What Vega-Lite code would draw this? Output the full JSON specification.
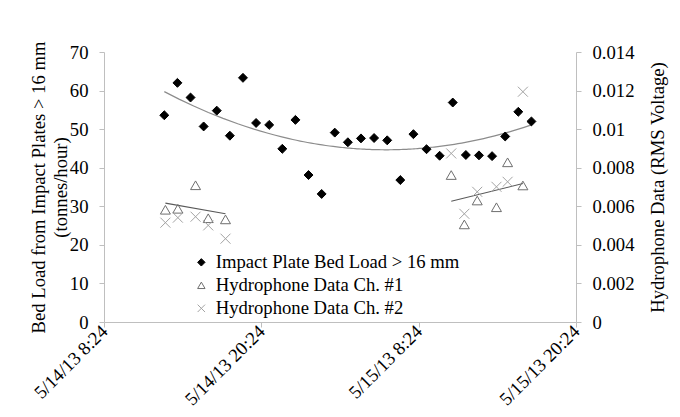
{
  "$schema": "https://vega.github.io/schema/vega-lite/v6.json",
  "width": 472,
  "height": 270,
  "autosize": {"type": "none"},
  "padding": {"left": 104, "top": 52, "right": 104, "bottom": 95},
  "background": "white",
  "config": {
    "view": {"stroke": null},
    "font": "Liberation Serif",
    "axis": {
      "labelFont": "Liberation Serif",
      "labelFontSize": 18.67,
      "labelColor": "black",
      "titleFont": "Liberation Serif",
      "titleFontSize": 18.67,
      "titleFontWeight": "normal",
      "titleColor": "black",
      "domainColor": "#bfbfbf",
      "tickColor": "#bfbfbf",
      "tickSize": 5,
      "grid": false
    }
  },
  "encoding": {
    "x": {
      "field": "t",
      "type": "temporal",
      "scale": {
        "domain": [
          {"year": 2013, "month": 5, "date": 14, "hours": 8, "minutes": 24},
          {"year": 2013, "month": 5, "date": 15, "hours": 20, "minutes": 24}
        ]
      },
      "axis": {
        "title": null,
        "values": [
          {"year": 2013, "month": 5, "date": 14, "hours": 8, "minutes": 24},
          {"year": 2013, "month": 5, "date": 14, "hours": 20, "minutes": 24},
          {"year": 2013, "month": 5, "date": 15, "hours": 8, "minutes": 24},
          {"year": 2013, "month": 5, "date": 15, "hours": 20, "minutes": 24}
        ],
        "format": "%-m/%-d/%y %-H:%M",
        "labelAngle": -45,
        "labelAlign": "right",
        "labelBaseline": "middle",
        "labelPadding": 1,
        "labelOverlap": false,
        "labelFlush": false
      }
    }
  },
  "layer": [
    {
      "data": {
        "values": [
          {"t": "2013-05-14T13:00:00", "load": 53.6, "series": "Impact Plate Bed Load > 16 mm"},
          {"t": "2013-05-14T14:00:00", "load": 62.0, "series": "Impact Plate Bed Load > 16 mm"},
          {"t": "2013-05-14T15:00:00", "load": 58.2, "series": "Impact Plate Bed Load > 16 mm"},
          {"t": "2013-05-14T16:00:00", "load": 50.7, "series": "Impact Plate Bed Load > 16 mm"},
          {"t": "2013-05-14T17:00:00", "load": 54.8, "series": "Impact Plate Bed Load > 16 mm"},
          {"t": "2013-05-14T18:00:00", "load": 48.3, "series": "Impact Plate Bed Load > 16 mm"},
          {"t": "2013-05-14T19:00:00", "load": 63.3, "series": "Impact Plate Bed Load > 16 mm"},
          {"t": "2013-05-14T20:00:00", "load": 51.6, "series": "Impact Plate Bed Load > 16 mm"},
          {"t": "2013-05-14T21:00:00", "load": 51.1, "series": "Impact Plate Bed Load > 16 mm"},
          {"t": "2013-05-14T22:00:00", "load": 44.9, "series": "Impact Plate Bed Load > 16 mm"},
          {"t": "2013-05-14T23:00:00", "load": 52.4, "series": "Impact Plate Bed Load > 16 mm"},
          {"t": "2013-05-15T00:00:00", "load": 38.1, "series": "Impact Plate Bed Load > 16 mm"},
          {"t": "2013-05-15T01:00:00", "load": 33.2, "series": "Impact Plate Bed Load > 16 mm"},
          {"t": "2013-05-15T02:00:00", "load": 49.1, "series": "Impact Plate Bed Load > 16 mm"},
          {"t": "2013-05-15T03:00:00", "load": 46.6, "series": "Impact Plate Bed Load > 16 mm"},
          {"t": "2013-05-15T04:00:00", "load": 47.6, "series": "Impact Plate Bed Load > 16 mm"},
          {"t": "2013-05-15T05:00:00", "load": 47.7, "series": "Impact Plate Bed Load > 16 mm"},
          {"t": "2013-05-15T06:00:00", "load": 47.1, "series": "Impact Plate Bed Load > 16 mm"},
          {"t": "2013-05-15T07:00:00", "load": 36.8, "series": "Impact Plate Bed Load > 16 mm"},
          {"t": "2013-05-15T08:00:00", "load": 48.7, "series": "Impact Plate Bed Load > 16 mm"},
          {"t": "2013-05-15T09:00:00", "load": 44.8, "series": "Impact Plate Bed Load > 16 mm"},
          {"t": "2013-05-15T10:00:00", "load": 43.1, "series": "Impact Plate Bed Load > 16 mm"},
          {"t": "2013-05-15T11:00:00", "load": 56.9, "series": "Impact Plate Bed Load > 16 mm"},
          {"t": "2013-05-15T12:00:00", "load": 43.3, "series": "Impact Plate Bed Load > 16 mm"},
          {"t": "2013-05-15T13:00:00", "load": 43.2, "series": "Impact Plate Bed Load > 16 mm"},
          {"t": "2013-05-15T14:00:00", "load": 43.0, "series": "Impact Plate Bed Load > 16 mm"},
          {"t": "2013-05-15T15:00:00", "load": 48.1, "series": "Impact Plate Bed Load > 16 mm"},
          {"t": "2013-05-15T16:00:00", "load": 54.5, "series": "Impact Plate Bed Load > 16 mm"},
          {"t": "2013-05-15T17:00:00", "load": 52.0, "series": "Impact Plate Bed Load > 16 mm"}
        ],
        "format": {"parse": {"t": "date"}}
      },
      "encoding": {
        "y": {
          "field": "load",
          "type": "quantitative",
          "scale": {"domain": [0, 70], "nice": false},
          "axis": {
            "orient": "left",
            "values": [0, 10, 20, 30, 40, 50, 60, 70],
            "labelPadding": 11,
            "title": ["Bed Load from Impact Plates > 16 mm", "(tonnes/hour)"],
            "titleAngle": -90,
            "titleX": -66,
            "titleY": 135,
            "titleAlign": "center",
            "titleBaseline": "middle",
            "titleLineHeight": 22
          }
        }
      },
      "layer": [
        {
          "transform": [{"regression": "load", "on": "t", "method": "poly", "order": 2}],
          "mark": {"type": "line", "color": "#8c8c8c", "strokeWidth": 1.2}
        },
        {
          "mark": {"type": "point", "size": 80, "strokeWidth": 1, "opacity": 1},
          "encoding": {
            "shape": {
              "field": "series",
              "type": "nominal",
              "scale": {
                "domain": ["Impact Plate Bed Load > 16 mm", "Hydrophone Data Ch. #1", "Hydrophone Data Ch. #2"],
                "range": ["diamond", "triangle-up", "M-1,-1L1,1M-1,1L1,-1"]
              },
              "legend": {
                "title": null,
                "orient": "none",
                "legendX": 88,
                "legendY": 201,
                "padding": 0,
                "labelFont": "Liberation Serif",
                "labelFontSize": 18.67,
                "labelColor": "black",
                "labelLimit": 400,
                "symbolSize": 55,
                "symbolStrokeWidth": 1,
                "labelOffset": 5,
                "rowPadding": 3
              }
            },
            "fill": {
              "field": "series",
              "type": "nominal",
              "scale": {
                "domain": ["Impact Plate Bed Load > 16 mm", "Hydrophone Data Ch. #1", "Hydrophone Data Ch. #2"],
                "range": ["black", "transparent", "transparent"]
              },
              "legend": {"title": null}
            },
            "stroke": {
              "field": "series",
              "type": "nominal",
              "scale": {
                "domain": ["Impact Plate Bed Load > 16 mm", "Hydrophone Data Ch. #1", "Hydrophone Data Ch. #2"],
                "range": ["black", "#6e6e6e", "#a3a3a3"]
              },
              "legend": {"title": null}
            }
          }
        }
      ]
    },
    {
      "data": {
        "values": [
          {"t": "2013-05-14T13:05:00", "v": 0.00582, "series": "Hydrophone Data Ch. #1", "cluster": "A"},
          {"t": "2013-05-14T14:02:00", "v": 0.00587, "series": "Hydrophone Data Ch. #1", "cluster": "A"},
          {"t": "2013-05-14T15:23:00", "v": 0.00709, "series": "Hydrophone Data Ch. #1", "cluster": "A"},
          {"t": "2013-05-14T16:21:00", "v": 0.00538, "series": "Hydrophone Data Ch. #1", "cluster": "A"},
          {"t": "2013-05-14T17:40:00", "v": 0.00532, "series": "Hydrophone Data Ch. #1", "cluster": "A"},
          {"t": "2013-05-15T10:53:00", "v": 0.00762, "series": "Hydrophone Data Ch. #1", "cluster": "B"},
          {"t": "2013-05-15T11:53:00", "v": 0.00506, "series": "Hydrophone Data Ch. #1", "cluster": "B"},
          {"t": "2013-05-15T12:52:00", "v": 0.00630, "series": "Hydrophone Data Ch. #1", "cluster": "B"},
          {"t": "2013-05-15T14:20:00", "v": 0.00595, "series": "Hydrophone Data Ch. #1", "cluster": "B"},
          {"t": "2013-05-15T15:11:00", "v": 0.00828, "series": "Hydrophone Data Ch. #1", "cluster": "B"},
          {"t": "2013-05-15T16:21:00", "v": 0.00708, "series": "Hydrophone Data Ch. #1", "cluster": "B"},
          {"t": "2013-05-14T13:05:00", "v": 0.00515, "series": "Hydrophone Data Ch. #2", "cluster": "A"},
          {"t": "2013-05-14T14:02:00", "v": 0.00541, "series": "Hydrophone Data Ch. #2", "cluster": "A"},
          {"t": "2013-05-14T15:23:00", "v": 0.00546, "series": "Hydrophone Data Ch. #2", "cluster": "A"},
          {"t": "2013-05-14T16:21:00", "v": 0.00501, "series": "Hydrophone Data Ch. #2", "cluster": "A"},
          {"t": "2013-05-14T17:40:00", "v": 0.00432, "series": "Hydrophone Data Ch. #2", "cluster": "A"},
          {"t": "2013-05-15T10:53:00", "v": 0.00874, "series": "Hydrophone Data Ch. #2", "cluster": "B"},
          {"t": "2013-05-15T11:53:00", "v": 0.00561, "series": "Hydrophone Data Ch. #2", "cluster": "B"},
          {"t": "2013-05-15T12:52:00", "v": 0.00675, "series": "Hydrophone Data Ch. #2", "cluster": "B"},
          {"t": "2013-05-15T14:20:00", "v": 0.00701, "series": "Hydrophone Data Ch. #2", "cluster": "B"},
          {"t": "2013-05-15T15:11:00", "v": 0.00727, "series": "Hydrophone Data Ch. #2", "cluster": "B"},
          {"t": "2013-05-15T16:21:00", "v": 0.01194, "series": "Hydrophone Data Ch. #2", "cluster": "B"}
        ],
        "format": {"parse": {"t": "date"}}
      },
      "encoding": {
        "y": {
          "field": "v",
          "type": "quantitative",
          "scale": {"domain": [0, 0.014], "nice": false},
          "axis": {
            "orient": "right",
            "values": [0, 0.002, 0.004, 0.006, 0.008, 0.01, 0.012, 0.014],
            "format": ".3~f",
            "labelPadding": 11,
            "title": "Hydrophone Data (RMS Voltage)",
            "titleAngle": -90,
            "titleX": 81,
            "titleY": 135,
            "titleAlign": "center",
            "titleBaseline": "middle"
          }
        }
      },
      "layer": [
        {
          "transform": [
            {"filter": "datum.series === 'Hydrophone Data Ch. #1'"},
            {"regression": "v", "on": "t", "groupby": ["cluster"], "method": "linear"}
          ],
          "mark": {"type": "line", "color": "#595959", "strokeWidth": 1.1},
          "encoding": {"detail": {"field": "cluster", "type": "nominal"}}
        },
        {
          "mark": {"type": "point", "size": 100, "strokeWidth": 1, "opacity": 1},
          "encoding": {
            "shape": {
              "field": "series",
              "type": "nominal",
              "scale": {
                "domain": ["Impact Plate Bed Load > 16 mm", "Hydrophone Data Ch. #1", "Hydrophone Data Ch. #2"],
                "range": ["diamond", "triangle-up", "M-1,-1L1,1M-1,1L1,-1"]
              }
            },
            "fill": {
              "field": "series",
              "type": "nominal",
              "scale": {
                "domain": ["Impact Plate Bed Load > 16 mm", "Hydrophone Data Ch. #1", "Hydrophone Data Ch. #2"],
                "range": ["black", "transparent", "transparent"]
              }
            },
            "stroke": {
              "field": "series",
              "type": "nominal",
              "scale": {
                "domain": ["Impact Plate Bed Load > 16 mm", "Hydrophone Data Ch. #1", "Hydrophone Data Ch. #2"],
                "range": ["black", "#6e6e6e", "#a3a3a3"]
              }
            }
          }
        }
      ]
    }
  ],
  "resolve": {"scale": {"y": "independent"}}
}
